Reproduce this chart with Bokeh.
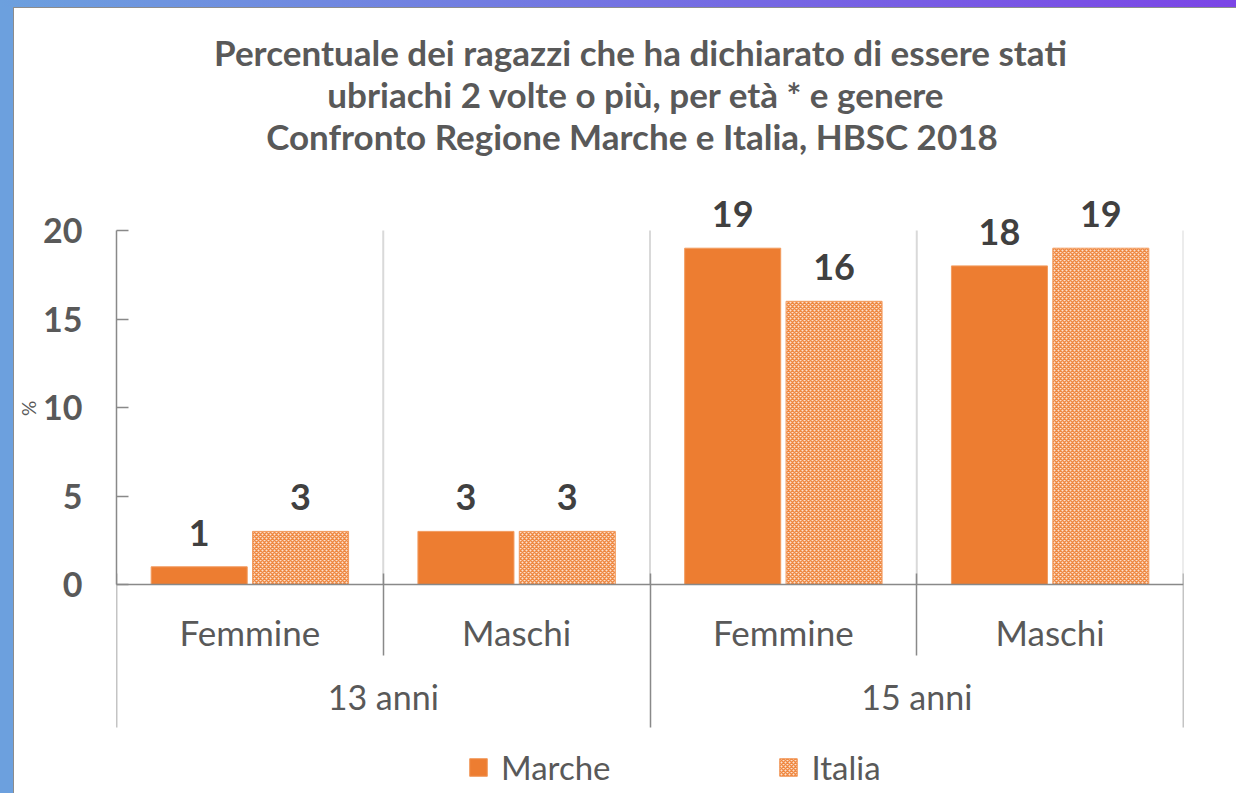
from bokeh.plotting import figure
from bokeh.models import (FactorRange, ColumnDataSource, LabelSet, Label, Legend,
                          LegendItem, LinearAxis, FixedTicker)
from bokeh.transform import dodge
from bokeh.core.properties import value
from bokeh.embed import file_html
from bokeh.resources import INLINE

# ---- data ----
ages = ["13 anni", "13 anni", "15 anni", "15 anni"]
sexes = ["Femmine", "Maschi", "Femmine", "Maschi"]
marche = [1, 3, 19, 18]
italia = [3, 3, 16, 19]
series_names = ["Marche", "Italia"]
y_ticks = [0, 5, 10, 15, 20]
y_label = "%"
title_lines = [
    "Percentuale dei ragazzi che ha dichiarato di essere stati",
    "ubriachi 2 volte o più, per età * e  genere",
    "Confronto  Regione Marche e  Italia, HBSC 2018",
]

ORANGE = "#ED7D31"
EDGE = "#F29B5E"
GREY_TXT = "#595959"
DARK_TXT = "#404040"
AXIS = "#898989"
FONT = "Lato"

# ---- layout (figure placed at page offset 14, 8) ----
W, H = 1222, 785
ZERO_Y = 576            # canvas y of value 0
PX = 354 / 20           # pixels per unit
Y_START = -(H - ZERO_Y) / PX
Y_END = ZERO_Y / PX

factors = list(zip(ages, sexes))
n = len(factors)
# category boundaries in synthetic (numeric) coordinates of the factor range
inner_bounds = [float(i) for i in range(1, n) if ages[i] == ages[i - 1]]
outer_bounds = [0.0] + [float(i) for i in range(1, n) if ages[i] != ages[i - 1]] + [float(n)]
all_bounds = [float(i) for i in range(1, n + 1)]

source = ColumnDataSource(dict(
    x=factors, marche=marche, italia=italia,
    ml=[str(v) for v in marche], il=[str(v) for v in italia]))
sep_source = ColumnDataSource(dict(
    x=all_bounds, y0=[y_ticks[0]] * n, y1=[y_ticks[-1]] * n))

p = figure(
    x_range=FactorRange(*factors, group_padding=0, factor_padding=0,
                        subgroup_padding=0, range_padding=0),
    y_range=(Y_START, Y_END), width=W, height=H, title=None,
    output_backend="svg", toolbar_location=None,
    min_border_left=102, min_border_right=53,
    min_border_top=0, min_border_bottom=0,
)
p.outline_line_color = None
p.xgrid.grid_line_color = None
p.ygrid.grid_line_color = None

# light category separators inside the plot area
p.segment(x0="x", y0="y0", x1="x", y1="y1", source=sep_source,
          line_color="#D9D9D9", line_width=2)

r1 = p.vbar(x=dodge("x", -0.19, range=p.x_range), top="marche", width=0.36,
            source=source, fill_color=ORANGE, line_color=EDGE, line_width=1)
r2 = p.vbar(x=dodge("x", 0.19, range=p.x_range), top="italia", width=0.36,
            source=source, fill_color="#FBE1CF", line_color=EDGE, line_width=1,
            hatch_pattern="diagonal_cross", hatch_color="#EF8841",
            hatch_scale=4, hatch_weight=1.5)

for col, ycol, off in (("ml", "marche", -0.19), ("il", "italia", 0.19)):
    p.add_layout(LabelSet(x=dodge("x", off, range=p.x_range), y=ycol, text=col,
                          source=source, text_align="center",
                          text_baseline="bottom", y_offset=21,
                          text_font=value(FONT), text_font_style="bold",
                          text_font_size="36px", text_color=DARK_TXT))

# y axis
p.yaxis.ticker = y_ticks
p.yaxis.bounds = (y_ticks[0], y_ticks[-1])
p.yaxis.axis_line_color = AXIS
p.yaxis.axis_line_width = 1.5
p.yaxis.major_tick_line_color = AXIS
p.yaxis.major_tick_line_width = 1.5
p.yaxis.major_tick_in = 12
p.yaxis.major_tick_out = 0
p.yaxis.minor_tick_line_color = None
p.yaxis.major_label_text_font = FONT
p.yaxis.major_label_text_font_style = "bold"
p.yaxis.major_label_text_font_size = "34px"
p.yaxis.major_label_text_color = GREY_TXT
p.yaxis.major_label_standoff = 34
p.yaxis.axis_label = y_label + "\u00a0" * 3
p.yaxis.axis_label_text_font = FONT
p.yaxis.axis_label_text_font_style = "normal"
p.yaxis.axis_label_text_font_size = "19px"
p.yaxis.axis_label_text_color = GREY_TXT
p.yaxis.axis_label_standoff = 0

# x axis (categorical), drawn at y = 0 inside the frame
xax = p.xaxis[0]
xax.fixed_location = 0
xax.axis_line_color = AXIS
xax.axis_line_width = 1.5
xax.major_tick_line_color = None
xax.minor_tick_line_color = None
xax.major_label_text_font = FONT
xax.major_label_text_font_size = "35px"
xax.major_label_text_color = GREY_TXT
xax.major_label_standoff = 20
xax.group_text_font = FONT
xax.group_text_font_size = "34px"
xax.group_text_font_style = "normal"
xax.group_text_color = GREY_TXT
xax.separator_line_color = None


def sep_axis(ticks, length):
    return LinearAxis(ticker=FixedTicker(ticks=ticks), fixed_location=0,
                      axis_line_color=None, major_tick_line_color=AXIS,
                      major_tick_line_width=1.5, major_tick_in=11,
                      major_tick_out=length, minor_tick_line_color=None,
                      major_label_text_font_size="0px", major_label_text_alpha=0,
                      major_label_standoff=0)


p.add_layout(sep_axis(inner_bounds, 71), "below")
p.add_layout(sep_axis(outer_bounds, 143), "below")

# title lines (screen units relative to frame bottom-left = canvas bottom)
for i, t in enumerate(title_lines):
    p.add_layout(Label(x=524, y=H - 43 - 42 * i, x_units="screen", y_units="screen",
                       text=t, text_align="center", text_baseline="middle",
                       text_font=FONT, text_font_style="bold",
                       text_font_size="35px", text_color=GREY_TXT))

legend = Legend(items=[LegendItem(label=series_names[0], renderers=[r1]),
                       LegendItem(label=series_names[1], renderers=[r2])],
                orientation="horizontal", location=(351, 6),
                label_text_font=FONT, label_text_font_size="33px",
                label_text_color=GREY_TXT, glyph_width=22, glyph_height=22,
                label_standoff=12, spacing=167, padding=0, margin=0,
                border_line_color=None, background_fill_alpha=0)
p.add_layout(legend)

html = file_html(p, INLINE)
page_css = (
    "<style>body{padding:8px 0 0 14px !important;margin:0 !important;"
    "background:"
    "linear-gradient(#8c8c8c,#8c8c8c) 13px 7px / 1px 100% no-repeat,"
    "linear-gradient(#8c8c8c,#8c8c8c) 13px 7px / 100% 1px no-repeat,"
    "linear-gradient(90deg,#6ca0de,#7b45e6) 0 0 / 100% 7px no-repeat,"
    "linear-gradient(#6ca0de,#6ca0de) 0 0 / 13px 100% no-repeat,"
    "#ffffff !important;}</style>"
)
html = html.replace("</head>", page_css + "</head>", 1)
open("out.html", "w").write(html)
